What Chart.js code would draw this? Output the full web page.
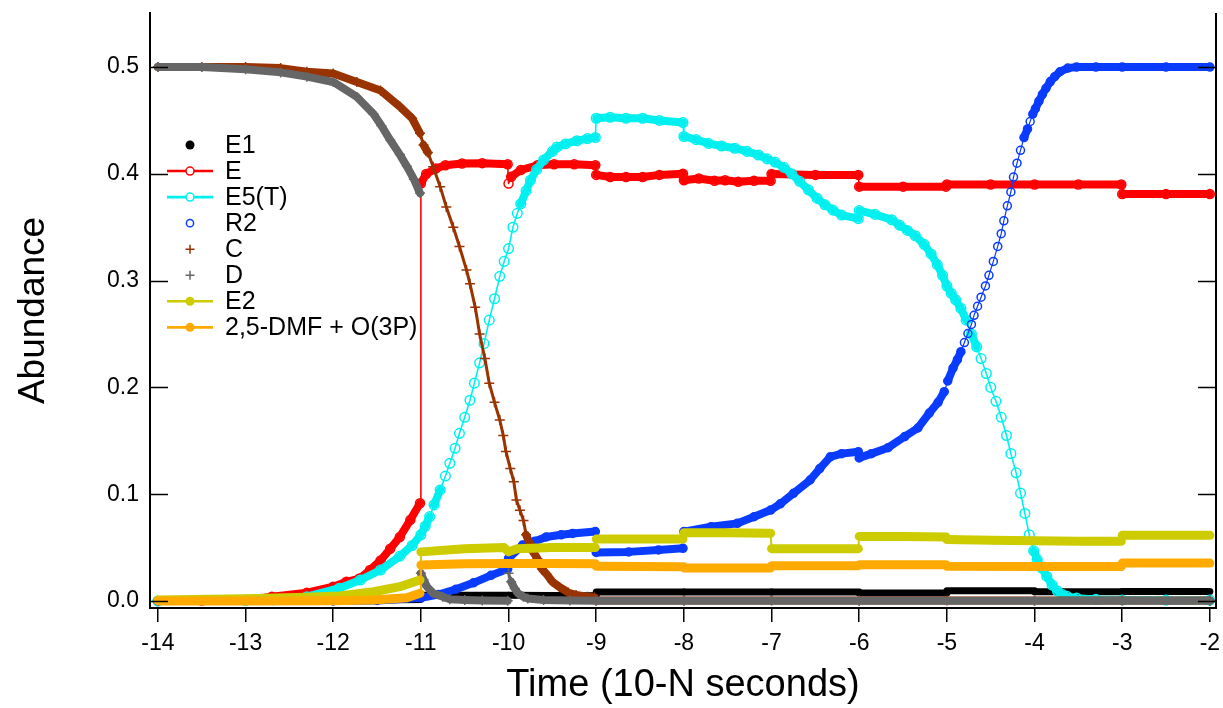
<!DOCTYPE html>
<html><head><meta charset="utf-8">
<script src="https://cdn.jsdelivr.net/npm/chart.js@4.4.1/dist/chart.umd.min.js"></script>
<style>html,body{margin:0;padding:0;background:#fff;}canvas{display:block;}</style>
</head><body>
<canvas id="c" width="1223" height="708"></canvas>
<script>
// ---- tick labels ----
const xTicks = [-14, -13, -12, -11, -10, -9, -8, -7, -6, -5, -4, -3, -2];
const yTicks = [0.0, 0.1, 0.2, 0.3, 0.4, 0.5];
const seriesNames = ['E1', 'E', 'E5(T)', 'R2', 'C', 'D', 'E2', '2,5-DMF + O(3P)'];

// ---- E1 ----
const tE1 = [-14, -12, -11.5, -11, -11, -10, -10, -9, -9, -8, -8, -7, -7, -6, -6, -5, -5, -4, -4, -3, -3, -2];
const yE1 = [0.0005, 0.0005, 0.001, 0.0015, 0.0055, 0.0055, 0.0055, 0.005, 0.0085, 0.0085, 0.0085, 0.0085, 0.0085, 0.0085, 0.0075, 0.0075, 0.0097, 0.0097, 0.0087, 0.0087, 0.009, 0.009];

// ---- E ----
const tE = [-14, -13.5, -13, -12.7, -12.3, -12, -11.85, -11.7, -11.58, -11.46, -11.35, -11.24, -11.12, -11.01,
  -11, -10.94, -10.83, -10.72, -10.53, -10.3, -10.01,
  -10, -9.97, -9.86, -9.67, -9.48, -9.25, -9.01,
  -9, -8.84, -8.66, -8.47, -8.28, -8.01,
  -8, -7.83, -7.65, -7.53, -7.38, -7.2, -7.01,
  -7, -6.5, -6.01,
  -6, -5.5, -5.01,
  -5, -4.5, -4, -3.5, -3.01,
  -3, -2.5, -2];
const yE = [0, 0.0005, 0.001, 0.004, 0.0078, 0.0134, 0.018, 0.021, 0.029, 0.038, 0.049, 0.060, 0.076, 0.0915,
  0.391, 0.3998, 0.405, 0.408, 0.4097, 0.41, 0.409,
  0.391, 0.3973, 0.4036, 0.408, 0.409, 0.409, 0.408,
  0.399, 0.397, 0.397, 0.397, 0.399, 0.4,
  0.394, 0.3957, 0.3935, 0.394, 0.3926, 0.3935, 0.3935,
  0.3998, 0.399, 0.399,
  0.388, 0.388, 0.388,
  0.390, 0.390, 0.390, 0.390, 0.390,
  0.381, 0.381, 0.381];

// ---- E5(T) ----
const tT = [-14, -13, -12.68, -12.3, -11.93, -11.69, -11.46, -11.24, -11.1, -11,
  -10.95, -10.9, -10.85, -10.78, -10.72, -10.67, -10.61, -10.56, -10.5, -10.44,
  -10.39, -10.33, -10.28, -10.22, -10.16, -10.1, -10.05, -10, -9.95, -9.9,
  -9.86, -9.8, -9.75, -9.68, -9.6, -9.5, -9.45, -9.35, -9.22, -9.1,
  -9.01, -9, -8.84, -8.66, -8.47, -8.28, -8.01, -8, -7.86, -7.72,
  -7.57, -7.42, -7.28, -7.15, -7.05, -6.96, -6.86, -6.77, -6.68, -6.58,
  -6.48, -6.39, -6.3, -6.2, -6.01, -6, -5.82, -5.63, -5.54, -5.45,
  -5.36, -5.26, -5.18, -5.11, -5.05, -5, -4.95, -4.9, -4.84, -4.78,
  -4.72, -4.66, -4.61, -4.55, -4.5, -4.44, -4.38, -4.32, -4.27, -4.21,
  -4.16, -4.11, -4.06, -4.01, -3.97, -3.92, -3.86, -3.8, -3.74, -3.68,
  -3.63, -3.52, -3.3, -3, -2.5, -2];
const yT = [0, 0.0005, 0.001, 0.004, 0.012, 0.0197, 0.029, 0.042, 0.052, 0.062,
  0.07, 0.079, 0.09, 0.104, 0.117, 0.129, 0.143, 0.157, 0.172, 0.188,
  0.204, 0.223, 0.241, 0.263, 0.283, 0.304, 0.318, 0.33, 0.35, 0.363,
  0.372, 0.384, 0.394, 0.404, 0.413, 0.421, 0.425, 0.428, 0.431, 0.433,
  0.434, 0.452, 0.453, 0.452, 0.452, 0.45, 0.448, 0.435, 0.432, 0.4285,
  0.426, 0.424, 0.421, 0.4176, 0.414, 0.411, 0.406, 0.4, 0.393, 0.385,
  0.377, 0.371, 0.366, 0.3614, 0.358, 0.3655, 0.362, 0.357, 0.352, 0.347,
  0.342, 0.334, 0.325, 0.315, 0.305, 0.295, 0.288, 0.282, 0.274, 0.263,
  0.25, 0.238, 0.227, 0.213, 0.2, 0.187, 0.172, 0.155, 0.138, 0.12,
  0.101, 0.082, 0.062, 0.047, 0.039, 0.031, 0.023, 0.015, 0.0095, 0.006,
  0.0044, 0.0027, 0.0015, 0.001, 0.0008, 0.0008];

// ---- R2 ----
const tR = [-14, -12, -11.5, -11, -10.8, -10.6, -10.4, -10.2, -10.01, -10,
  -9.84, -9.7, -9.57, -9.4, -9.27, -9.01, -9, -8.63, -8.29, -8.01,
  -8, -7.69, -7.39, -7.2, -7.01, -6.9, -6.75, -6.56, -6.45, -6.33,
  -6.2, -6.01, -6, -5.86, -5.67, -5.48, -5.33, -5.2, -5.1, -5.03,
  -4.99, -4.93, -4.88, -4.84, -4.8, -4.76, -4.72, -4.69, -4.65, -4.61,
  -4.56, -4.52, -4.47, -4.42, -4.38, -4.35, -4.31, -4.27, -4.24, -4.2,
  -4.16, -4.12, -4.08, -4.05, -4.02, -3.99, -3.95, -3.91, -3.87, -3.82,
  -3.77, -3.71, -3.62, -3.52, -3.3, -3, -2.5, -2];
const yR = [0, 0, 0.0005, 0.003, 0.006, 0.011, 0.017, 0.024, 0.03, 0.04,
  0.0524, 0.056, 0.06, 0.062, 0.0633, 0.065, 0.0455, 0.046, 0.0478, 0.0493,
  0.065, 0.0696, 0.0727, 0.0789, 0.0852, 0.091, 0.1008, 0.1133, 0.124, 0.135,
  0.138, 0.1398, 0.134, 0.138, 0.1436, 0.154, 0.162, 0.176, 0.186, 0.196,
  0.206, 0.218, 0.226, 0.2335, 0.242, 0.2505, 0.259, 0.2675, 0.276, 0.2845,
  0.295, 0.305, 0.318, 0.332, 0.344, 0.356, 0.37, 0.383, 0.397, 0.41,
  0.422, 0.434, 0.442, 0.449, 0.456, 0.461, 0.468, 0.4745, 0.48, 0.4864,
  0.491, 0.4956, 0.499, 0.5, 0.5, 0.5, 0.5, 0.5];

// ---- C ----
const tC = [-14, -13.5, -13, -12.6, -12.3, -12, -11.73, -11.46, -11.24, -11.1,
  -11.01, -10.97, -10.92, -10.86, -10.78, -10.71, -10.63, -10.56, -10.48, -10.44,
  -10.38, -10.33, -10.27, -10.22, -10.16, -10.1, -10.06, -10.03, -9.98, -9.94,
  -9.91, -9.87, -9.83, -9.8, -9.76, -9.72, -9.67, -9.62, -9.57, -9.5,
  -9.42, -9.32, -9.23, -9.1, -9.02, -9, -8, -7, -6, -5,
  -4, -3, -2];
const yC = [0.5, 0.5, 0.5, 0.499, 0.4957, 0.494, 0.486, 0.478, 0.463, 0.452,
  0.438, 0.427, 0.42, 0.4067, 0.388, 0.369, 0.35, 0.332, 0.31, 0.297,
  0.275, 0.25, 0.227, 0.204, 0.186, 0.1695, 0.155, 0.14, 0.124, 0.1117,
  0.0946, 0.085, 0.0755, 0.062, 0.054, 0.046, 0.0396, 0.03, 0.0256, 0.018,
  0.0131, 0.008, 0.0056, 0.004, 0.0034, 0.0005, 0.0005, 0.0005, 0.0005, 0.0005,
  0.0005, 0.0005, 0.0005];

// ---- D ----
const tD = [-14, -13.5, -13, -12.6, -12.3, -12, -11.73, -11.54, -11.45, -11.35,
  -11.24, -11.16, -11.08, -11.01, -11, -10.97, -10.93, -10.86, -10.75, -10.67,
  -10.5, -10.3, -10.01, -10, -9.97, -9.93, -9.89, -9.83, -9.78, -9.6,
  -9.3, -9, -8, -6, -4, -2];
const yD = [0.5, 0.5, 0.498, 0.495, 0.491, 0.486, 0.472, 0.456, 0.445, 0.4316,
  0.418, 0.407, 0.395, 0.382, 0.026, 0.02, 0.0134, 0.0072, 0.004, 0.0016,
  0.001, 0.0005, 0.0003, 0.026, 0.018, 0.0117, 0.007, 0.004, 0.0023, 0.0009,
  0.0005, 0.0003, 0.0003, 0.0003, 0.0003, 0.0003];

// ---- E2 ----
const tE2 = [-14, -13, -12.3, -11.93, -11.54, -11.24, -11.01, -11, -10.5, -10.05,
  -10, -9.9, -9.5, -9.01, -9, -8.5, -8.01, -8, -7.5, -7.01,
  -7, -6.5, -6.01, -6, -5.5, -5.01, -5, -4.5, -4, -3.5,
  -3.01, -3, -2.5, -2];
const yE2 = [0.001, 0.002, 0.0035, 0.0047, 0.0087, 0.0134, 0.0197, 0.046, 0.049, 0.05,
  0.046, 0.049, 0.05, 0.05, 0.058, 0.058, 0.058, 0.064, 0.064, 0.0635,
  0.049, 0.049, 0.049, 0.0605, 0.0605, 0.060, 0.0575, 0.057, 0.0565, 0.056,
  0.056, 0.0615, 0.0615, 0.0615];

// ---- 2,5-DMF + O(3P) ----
const tO = [-14, -13, -12, -11.54, -11.16, -11.01, -11, -10.5, -10, -9.5,
  -9.01, -9, -8.5, -8.01, -8, -7.5, -7.01, -7, -6.5, -6.01,
  -6, -5.5, -5.01, -5, -4, -3.01, -3, -2.5, -2];
const yO = [0, 0, 0.0003, 0.001, 0.003, 0.0072, 0.0337, 0.035, 0.0352, 0.0352,
  0.035, 0.0325, 0.0322, 0.032, 0.031, 0.031, 0.031, 0.033, 0.033, 0.033,
  0.034, 0.034, 0.034, 0.0325, 0.0322, 0.0322, 0.0355, 0.0355, 0.0355];

// ---- styles ----
const FONT = "'Liberation Sans', Arial, Helvetica, sans-serif";
const styles = [
  { color: '#000000', marker: 'dot', band: 7, line: false, r: 4.5, steepW: 2 },
  { color: '#ff0000', marker: 'circle', band: 8, line: true, r: 4.5, steepW: 1.6 },
  { color: '#00f0f0', marker: 'circle', band: 8, line: true, r: 4.8, steepW: 1.6 },
  { color: '#0a3cff', marker: 'circle', band: 8, line: false, r: 4, steepW: 1.2 },
  { color: '#993300', marker: 'cross', band: 8, line: false, r: 5, steepW: 3 },
  { color: '#666666', marker: 'cross', band: 8, line: false, r: 5, steepW: 3 },
  { color: '#cccc00', marker: 'dot', band: 9, line: true, r: 5, steepW: 2 },
  { color: '#ffaa00', marker: 'dot', band: 9, line: true, r: 5, steepW: 2 }
];
const seriesData = [[tE1, yE1], [tE, yE], [tT, yT], [tR, yR], [tC, yC], [tD, yD], [tE2, yE2], [tO, yO]];

function segInfo(c) {
  const dx = Math.abs(c.p1.x - c.p0.x), dy = Math.abs(c.p1.y - c.p0.y);
  return { vertical: dx < 2, steep: dy > 2.5 * dx };
}

const datasets = seriesData.map(([t, y], i) => {
  const s = styles[i];
  return {
    label: seriesNames[i],
    data: t.map((x, k) => ({ x: x, y: y[k] })),
    order: 7 - i,
    borderColor: s.color,
    borderWidth: s.band,
    borderCapStyle: 'round',
    borderJoinStyle: 'round',
    tension: 0,
    fill: false,
    pointStyle: s.marker === 'cross' ? 'cross' : 'circle',
    pointRadius: s.marker === 'dot' ? 0 : s.r,
    pointBorderWidth: 1.5,
    pointBorderColor: s.color,
    pointBackgroundColor: 'rgba(0,0,0,0)',
    segment: {
      borderWidth: c => { const g = segInfo(c); return g.steep ? s.steepW : s.band; },
      borderColor: c => { const g = segInfo(c); return (!s.line && g.vertical) ? 'rgba(0,0,0,0)' : s.color; }
    }
  };
});

// inward y ticks on both sides + right frame
const framePlugin = {
  id: 'frame',
  afterDatasetsDraw(chart) {
    const { ctx, chartArea: a, scales } = chart;
    const ys = scales.y;
    ctx.save();
    ctx.strokeStyle = '#000';
    ctx.lineWidth = 2;
    ctx.beginPath();
    ctx.moveTo(a.right, a.top);
    ctx.lineTo(a.right, a.bottom + 1);
    ctx.stroke();
    ctx.lineWidth = 1.5;
    yTicks.forEach(v => {
      const py = Math.round(ys.getPixelForValue(v)) + 0.5;
      ctx.beginPath();
      ctx.moveTo(a.left, py); ctx.lineTo(a.left + 18, py);
      ctx.moveTo(a.right - 18, py); ctx.lineTo(a.right, py);
      ctx.stroke();
    });
    ctx.restore();
  }
};

// legend inside the plot, drawn like the original
const legendPlugin = {
  id: 'innerLegend',
  afterDraw(chart) {
    const ctx = chart.ctx;
    const x0 = 167, x1 = 213, xm = 190, xt = 225, yStart = 145, dy = 26.05;
    ctx.save();
    ctx.font = '25px ' + FONT;
    ctx.textBaseline = 'middle';
    ctx.textAlign = 'left';
    seriesNames.forEach((name, i) => {
      const s = styles[i];
      const y = yStart + i * dy;
      if (s.line) {
        ctx.strokeStyle = s.color; ctx.lineWidth = 2.6;
        ctx.beginPath(); ctx.moveTo(x0, y); ctx.lineTo(x1, y); ctx.stroke();
      }
      ctx.strokeStyle = s.color; ctx.fillStyle = s.color; ctx.lineWidth = 1.5;
      const r = Math.min(s.r, 4.5);
      if (s.marker === 'dot') {
        ctx.beginPath(); ctx.arc(xm, y, r, 0, Math.PI * 2); ctx.fill();
      } else if (s.marker === 'circle') {
        ctx.fillStyle = '#fff';
        ctx.beginPath(); ctx.arc(xm, y, i === 3 ? 3.6 : 4, 0, Math.PI * 2); ctx.fill(); ctx.stroke();
      } else {
        ctx.beginPath();
        ctx.moveTo(xm - 4.5, y); ctx.lineTo(xm + 4.5, y);
        ctx.moveTo(xm, y - 4.5); ctx.lineTo(xm, y + 4.5);
        ctx.stroke();
      }
      ctx.fillStyle = '#000';
      ctx.fillText(name, xt, y + 1);
    });
    ctx.restore();
  }
};

new Chart(document.getElementById('c'), {
  type: 'line',
  data: { datasets: datasets },
  options: {
    responsive: false,
    animation: false,
    events: [],
    layout: { padding: { left: 0, right: 7, top: 13, bottom: 0 } },
    plugins: { legend: { display: false }, tooltip: { enabled: false } },
    scales: {
      x: {
        type: 'linear', min: -14.09, max: -1.93,
        afterBuildTicks: s => { s.ticks = xTicks.map(v => ({ value: v })); },
        afterFit: s => { s.height = 100; s.paddingLeft = 0; s.paddingRight = 0; },
        ticks: { color: '#000', font: { family: FONT, size: 23 }, padding: 8, maxRotation: 0, autoSkip: false,
          callback: v => String(v) },
        grid: { drawOnChartArea: false, drawTicks: true, tickLength: 14, color: '#000', lineWidth: 1.5 },
        border: { display: true, color: '#000', width: 2 },
        title: { display: true, text: 'Time (10-N seconds)', color: '#000', font: { family: FONT, size: 38 }, padding: { top: 0, bottom: 0 } }
      },
      y: {
        type: 'linear', min: -0.00655, max: 0.5506,
        afterBuildTicks: s => { s.ticks = yTicks.map(v => ({ value: v })); },
        afterFit: s => { s.width = 150; s.paddingTop = 0; s.paddingBottom = 0; },
        ticks: { color: '#000', font: { family: FONT, size: 23 }, padding: 11, callback: v => Number(v).toFixed(1) },
        grid: { display: false, drawTicks: false },
        border: { display: true, color: '#000', width: 2 },
        title: { display: true, text: 'Abundance', color: '#000', font: { family: FONT, size: 37 }, padding: { top: 12, bottom: 0 } }
      }
    }
  },
  plugins: [framePlugin, legendPlugin]
});
</script>
</body></html>
